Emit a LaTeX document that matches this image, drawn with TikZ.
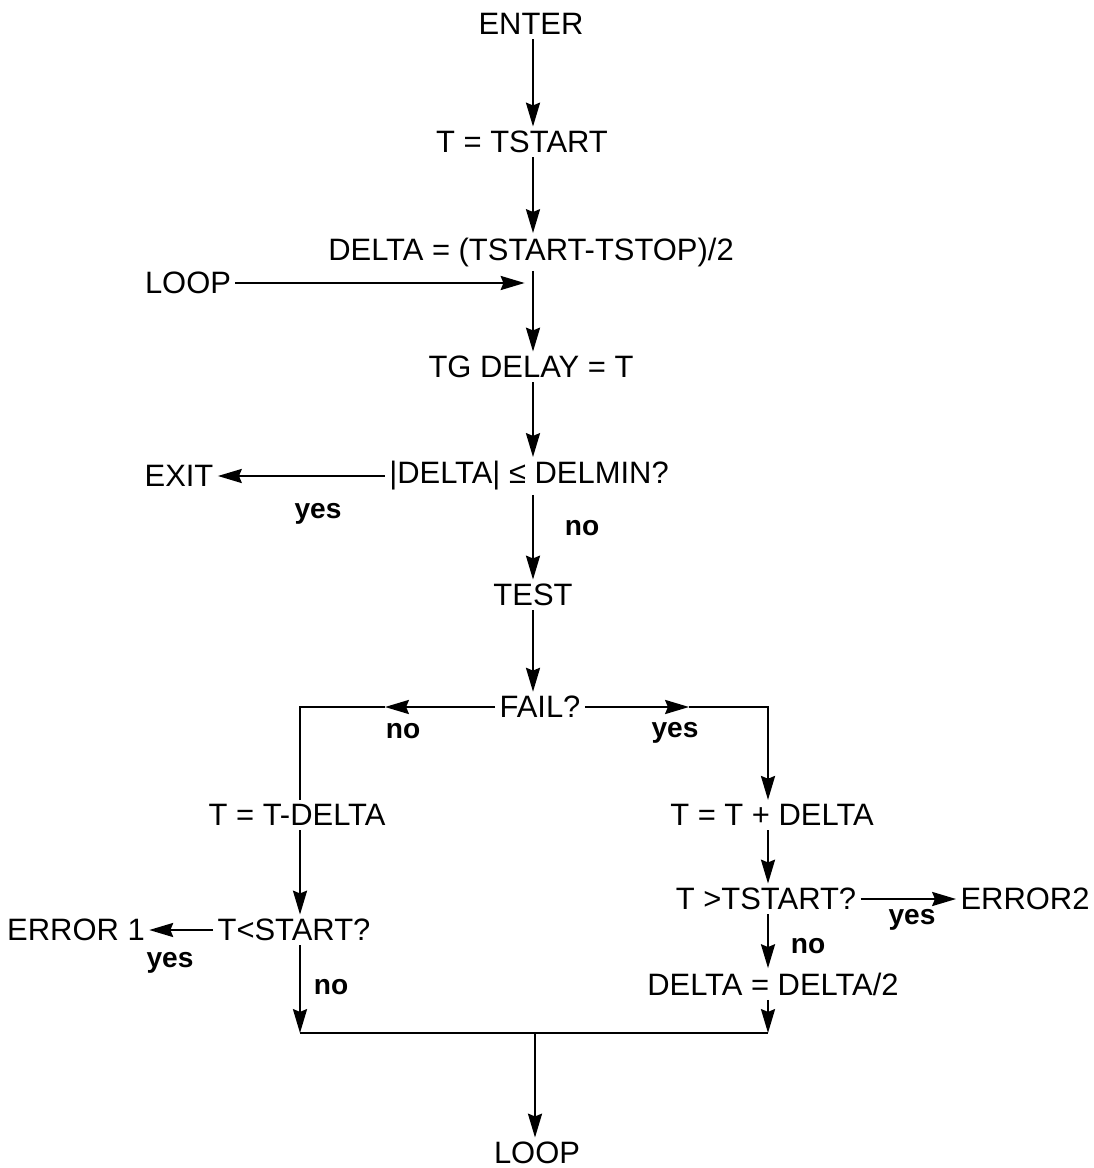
\documentclass[tikz,border=0pt]{standalone}
\usepackage{fontspec}
\setmainfont{Liberation Sans}
\usetikzlibrary{positioning,arrows.meta}

\begin{document}
\begin{tikzpicture}[
  x=0.025cm, y=-0.025cm,
  stepnode/.style={inner sep=3pt, font=\fontsize{22}{26}\selectfont},
  answer/.style={inner sep=1pt, font=\fontsize{20}{24}\selectfont\bfseries},
  arr/.style={line width=1.5pt, -{Stealth[length=17pt,width=10pt,inset=2pt]}},
  ln/.style={line width=1.5pt},
]
\useasboundingbox (0,0) rectangle (1093,1168);

% Columns of the chart
\coordinate (col)  at (533,0);
\coordinate (lcol) at (300,0);
\coordinate (rcol) at (768,0);

% Main column
\node[stepnode] (enter)   at (531,24)  {ENTER};
\node[stepnode] (tstart)  at (522,142) {T = TSTART};
\node[stepnode] (delta)   at (531,252) {DELTA = (TSTART-TSTOP)/2};
\node[stepnode] (loopin)  at (188,283) {LOOP};
\node[stepnode] (tgdelay) at (531,367) {TG DELAY = T};
\node[stepnode] (dtest)   at (529,476) {|DELTA| ≤ DELMIN?};
\node[stepnode] (exit)    at (179,476) {EXIT};
\node[stepnode] (test)    at (533,595) {TEST};
\node[stepnode] (fail)    at (540,707) {FAIL?};

% Left branch
\node[stepnode] (tminus)  at (297,815) {T = T-DELTA};
\node[stepnode] (tlow)    at (294,930) {T<START?};
\node[stepnode] (err1)    at (76,930)  {ERROR 1};

% Right branch
\node[stepnode] (tplus)   at (772,815) {T = T + DELTA};
\node[stepnode] (thigh)   at (766,899) {T >TSTART?};
\node[stepnode] (err2)    at (1025,899) {ERROR2};
\node[stepnode] (halve)   at (773,984) {DELTA = DELTA/2};

\node[stepnode] (loopout) at (537,1153) {LOOP};

% Answers
\node[answer] at (318,514) {yes};
\node[answer] at (582,528) {no};
\node[answer] at (403,731) {no};
\node[answer] at (675,733) {yes};
\node[answer] at (170,963) {yes};
\node[answer] at (331,987) {no};
\node[answer] at (912,920) {yes};
\node[answer] at (808,946) {no};

% Bends and joins
\coordinate (loopjoin) at (col |- loopin);
\coordinate (failno)   at (385,707);
\coordinate (failyes)  at (689,707);
\coordinate (mergeL)   at (300,1033);
\coordinate (mergeR)   at (768,1033);
\coordinate (mergeC)   at (535,1033);

% Connectors
\draw[arr] (col |- enter.south) -- (col |- tstart.north);
\draw[arr] (col |- tstart.south) -- (col |- delta.north);
\draw[arr] (col |- delta.south) -- (col |- tgdelay.north);
\draw[arr, shorten >=6pt] (loopin) -- (loopjoin);
\draw[arr] (col |- tgdelay.south) -- (col |- dtest.north);
\draw[arr] (dtest) -- (exit);
\draw[arr] (col |- dtest.south) -- (col |- test.north);
\draw[arr] (col |- test.south) -- (col |- fail.north);

\draw[arr] (fail) -- (failno);
\draw[ln] (failno) -- (lcol |- fail) -- (lcol |- tminus.north);
\draw[arr] (fail) -- (failyes);
\draw[arr] (failyes) -- (rcol |- fail) -- (rcol |- tplus.north);

\draw[arr] (lcol |- tminus.south) -- (lcol |- tlow.north);
\draw[arr] (tlow) -- (err1);
\draw[arr] (lcol |- tlow.south) -- (mergeL);

\draw[arr] (rcol |- tplus.south) -- (rcol |- thigh.north);
\draw[arr] (thigh) -- (err2);
\draw[arr] (rcol |- thigh.south) -- (rcol |- halve.north);
\draw[arr] (rcol |- halve.south) -- (mergeR);

\draw[ln] (mergeL) -- (mergeR);
\draw[arr] (mergeC) -- (mergeC |- loopout.north);

\end{tikzpicture}
\end{document}
